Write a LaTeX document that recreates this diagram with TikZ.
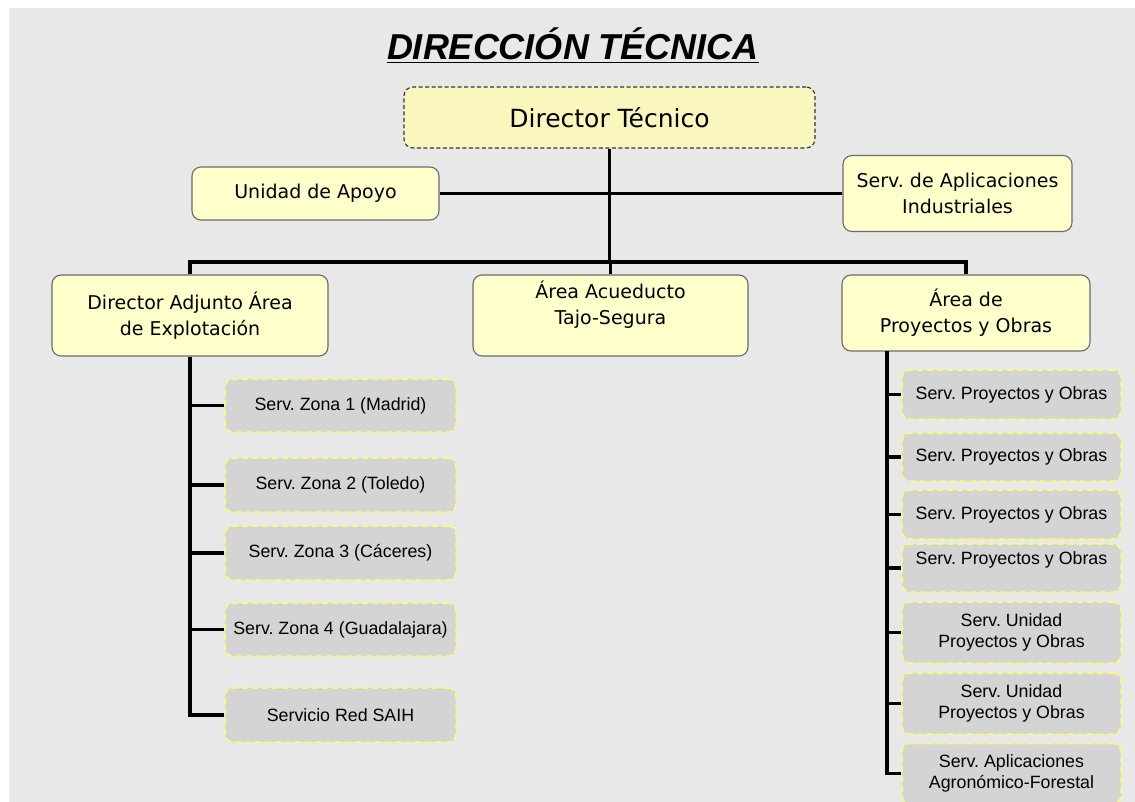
\documentclass[tikz,border=0pt]{standalone}
\usepackage{fontspec}
\usepackage{tikz}
\usetikzlibrary{positioning}
\setmainfont{DejaVu Sans}
\newfontfamily\arialfont{Liberation Sans}
\frenchspacing
\definecolor{fondo}{HTML}{E8E8E8}
\definecolor{amarillo}{HTML}{FFFFCC}
\definecolor{amarilloDir}{HTML}{FAF7BE}
\definecolor{borde}{HTML}{6A6A6A}
\definecolor{gris}{HTML}{D4D4D4}
\definecolor{bordeGris}{HTML}{FFFF60}
\tikzset{cargo/.style = {draw=borde, line width=1.1pt, fill=amarillo, rounded corners=9pt,
                         align=center, inner sep=0pt, font=\fontsize{19}{26}\selectfont},
         servicio/.style = {draw=bordeGris, line width=1.5pt, dash pattern=on 6pt off 4pt,
                            fill=gris, rounded corners=8pt, align=center, inner sep=0pt,
                            font=\arialfont\fontsize{17.8}{20.5}\selectfont},
         enlace/.style = {line width=3.5pt}}

\begin{document}
\begin{tikzpicture}[x=1pt, y=-1pt]
      \useasboundingbox (0, 0) rectangle (1135, 802);
      \fill [white] (0, 0) rectangle (1135, 802);
      \fill [fondo] (9, 8) rectangle (1135, 802);
      \node [anchor = base] (titulo) at (573, 60)
            {\arialfont\bfseries\itshape\fontsize{36}{40}\selectfont\underline{DIRECCIÓN TÉCNICA}};
      \node [cargo, fill=amarilloDir, dash pattern=on 4pt off 2.5pt, draw=black!80,
             minimum width=411pt, minimum height=61pt, font=\fontsize{25}{30}\selectfont]
            (dir) at (609.5, 117.5) {Director Técnico};
      \node [cargo, minimum width=247pt, minimum height=53pt] (apoyo) at (315.5, 193.5) {Unidad de Apoyo};
      \node [cargo, minimum width=229pt, minimum height=76pt] (aplic) at (957.5, 193.5)
            {Serv. de Aplicaciones\\Industriales};
      \node [cargo, minimum width=276pt, minimum height=81pt] (adj) at (190, 315.5)
            {Director Adjunto Área\\de Explotación};
      \node [cargo, minimum width=275pt, minimum height=81pt] (acu) at (610.5, 315.5)
            {Área Acueducto\\Tajo-Segura\\\mbox{}};
      \node [cargo, minimum width=248pt, minimum height=76pt] (proy) at (966, 313)
            {Área de\\Proyectos y Obras};
      \coordinate (bus) at (609.5, 262);
      \coordinate (proybajada) at (887, 351);
      \node [servicio, minimum width=231pt, minimum height=53pt] (z1) at (340.5, 405.5) {Serv. Zona 1 (Madrid)};
      \node [servicio, minimum width=231pt, minimum height=54pt] (z2) at (340.5, 485) {Serv. Zona 2 (Toledo)};
      \node [servicio, minimum width=231pt, minimum height=54pt] (z3) at (340.5, 553) {Serv. Zona 3 (Cáceres)};
      \node [servicio, minimum width=231pt, minimum height=53pt] (z4) at (340.5, 629.5) {Serv. Zona 4 (Guadalajara)};
      \node [servicio, minimum width=231pt, minimum height=54pt] (saih) at (340.5, 715) {Servicio Red SAIH};
      \node [servicio, minimum width=219pt, minimum height=49pt] (p1) at (1011.5, 394.5) {Serv. Proyectos y Obras};
      \node [servicio, minimum width=219pt, minimum height=48pt] (p2) at (1011.5, 457) {Serv. Proyectos y Obras};
      \node [servicio, minimum width=219pt, minimum height=49pt] (p3) at (1011.5, 514.5) {Serv. Proyectos y Obras};
      \node [servicio, minimum width=219pt, minimum height=48pt] (p4) at (1011.5, 568) {Serv. Proyectos y Obras\\\mbox{}};
      \node [servicio, minimum width=219pt, minimum height=61pt] (u1) at (1011.5, 632.5) {Serv. Unidad\\Proyectos y Obras};
      \node [servicio, minimum width=219pt, minimum height=61pt] (u2) at (1011.5, 703.5) {Serv. Unidad\\Proyectos y Obras};
      \node [servicio, minimum width=219pt, minimum height=60pt] (agro) at (1011.5, 773.5) {Serv. Aplicaciones\\Agronómico-Forestal};
      \draw [enlace] (dir.south) -- (bus);
      \draw [enlace] (apoyo.east) -- (aplic.west);
      \draw [enlace] (adj.north) |- (bus) -| (proy.north);
      \draw [enlace] (acu.north) -- (acu.north |- bus);
      \foreach \s in {z1, z2, z3, z4, saih}
        \draw [enlace] (adj.south) |- (\s.west);
      \foreach \s in {p1, p2, p3, p4, u1, u2, agro}
        \draw [enlace] (proybajada) |- (\s.west);
\end{tikzpicture}
\end{document}
